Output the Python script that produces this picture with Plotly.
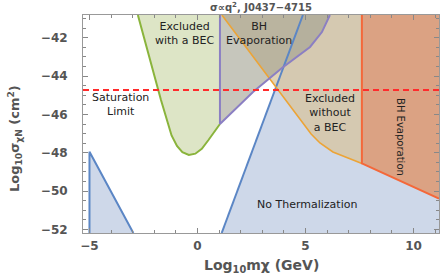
import plotly.graph_objects as go

# axis extents
X_RANGE = [-5.30, 11.18]
Y_RANGE = [-52.19, -40.81]
X_MIN, X_MAX = X_RANGE
Y_MIN, Y_MAX = Y_RANGE

# boundary curves (Log10 m_chi [GeV], Log10 sigma [cm^2])
green_x = [-2.76, -2.20, -1.69, -1.20, -0.95, -0.70, -0.40, -0.10, 0.20, 0.50, 1.04]
green_y = [-40.81, -43.16, -45.25, -47.10, -47.65, -47.97, -48.12, -48.05, -47.80, -47.35, -46.50]

purple_x = [1.04, 1.04, 2.57, 3.91, 5.21, 5.76, 6.13]
purple_y = [-40.81, -46.50, -44.83, -43.58, -42.48, -41.70, -40.81]

orange_x = [1.13, 4.88, 5.26, 5.67, 6.27, 6.97, 7.61]
orange_y = [-40.81, -46.45, -47.02, -47.49, -47.96, -48.28, -48.56]

red_x = [7.61, 7.61, 11.18]
red_y = [-40.81, -48.56, -50.40]

blue_big_x = [1.12, 4.88]
blue_big_y = [-52.19, -40.81]

blue_small_x = [-5.00, -5.00, -2.97]
blue_small_y = [-52.19, -47.95, -52.19]

saturation_y = -44.73

x_ticks = [-5, 0, 5, 10]
y_ticks = [-52, -50, -48, -46, -44, -42]

FONT = "DejaVu Sans"
GREY = "#555555"

fig = go.Figure()

def fill(xs, ys, color):
    fig.add_trace(go.Scatter(x=xs, y=ys, fill="toself", fillcolor=color, mode="lines",
                             line=dict(width=0), hoverinfo="skip", showlegend=False))

def line(xs, ys, color, width=2, dash=None):
    fig.add_trace(go.Scatter(x=xs, y=ys, mode="lines",
                             line=dict(color=color, width=width, dash=dash),
                             hoverinfo="skip", showlegend=False))

# fills
fill(blue_big_x + [X_MAX, X_MAX], blue_big_y + [Y_MAX, Y_MIN], "#ced8e9")
fill(blue_small_x, blue_small_y, "#ced8e9")
fill(orange_x + [red_x[0]], orange_y + [Y_MAX], "rgba(215,196,157,0.75)")
fill(red_x + [X_MAX, X_MAX], red_y + [Y_MAX, Y_MAX], "#dba283")
fill(green_x + [green_x[-1]], green_y + [Y_MAX], "#dde5c6")
fill(purple_x, purple_y, "rgba(160,160,143,0.6)")

# boundaries
line(blue_small_x, blue_small_y, "#5b86c5", 2)
line(blue_big_x, blue_big_y, "#5b86c5", 2)
line(green_x, green_y, "#8ab43c", 2)
line(orange_x, orange_y, "#eca437", 1.6)
line(purple_x, purple_y, "#8b7fc3", 2)
line(red_x, red_y, "#f4683a", 2)
line([X_MIN, X_MAX], [saturation_y, saturation_y], "#ff2b2b", 2, "6px,4px")

labels = [
    ("Excluded<br>with a BEC", -0.56, -41.80),
    ("BH<br>Evaporation", 2.85, -41.75),
    ("Saturation<br>Limit", -3.55, -45.46),
    ("Excluded<br>without<br>a BEC", 6.12, -45.90),
    ("No Thermalization", 5.09, -50.68),
]
for t, x, y in labels:
    fig.add_annotation(x=x, y=y, text=t, showarrow=False,
                       font=dict(family=FONT, size=11, color="#222222"))
fig.add_annotation(x=9.42, y=-47.18, text="BH Evaporation", showarrow=False, textangle=90,
                   font=dict(family=FONT, size=10, color="#222222"))

fig.add_annotation(xref="paper", yref="paper", x=0.5, y=1.037, xanchor="center", yanchor="middle",
                   text="σ∝q<sup>2</sup>, J0437−4715",
                   showarrow=False, font=dict(family=FONT, size=10, color=GREY, weight="bold"))
fig.add_annotation(xref="paper", yref="paper", x=0.5, y=-0.15, xanchor="center", yanchor="middle",
                   text="Log<sub>10</sub>mχ (GeV)", showarrow=False,
                   font=dict(family=FONT, size=14, color=GREY, weight="bold"))
fig.add_annotation(xref="paper", yref="paper", x=-0.191, y=0.431, xanchor="center", yanchor="middle",
                   textangle=-90,
                   text="Log<sub>10</sub>σ<sub>χN</sub> (cm<sup>2</sup>)", showarrow=False,
                   font=dict(family=FONT, size=13, color=GREY, weight="bold"))

axis_common = dict(showgrid=False, zeroline=False, showline=True, linecolor="#999999",
                   linewidth=1, mirror="allticks", ticks="inside", ticklen=5, automargin=False,
                   tickcolor="#888888", tickfont=dict(family=FONT, size=12, color=GREY, weight="bold"))
fig.update_xaxes(range=X_RANGE, tickvals=x_ticks, ticklabelstandoff=2,
                 minor=dict(dtick=1, ticks="inside", ticklen=3, tickcolor="#888888"),
                 **axis_common)
fig.update_yaxes(range=Y_RANGE, tickvals=y_ticks, ticklabelstandoff=12,
                 minor=dict(dtick=0.5, ticks="inside", ticklen=3, tickcolor="#888888"),
                 **axis_common)

fig.update_layout(width=443, height=277, margin=dict(l=83, r=4, t=15, b=44),
                  plot_bgcolor="white", paper_bgcolor="white", showlegend=False)

# remove the default 8px page margin so the figure fills the window exactly
fig.write_html("out.html", config={"displayModeBar": False},
               post_script="document.body.style.margin='0px';")
